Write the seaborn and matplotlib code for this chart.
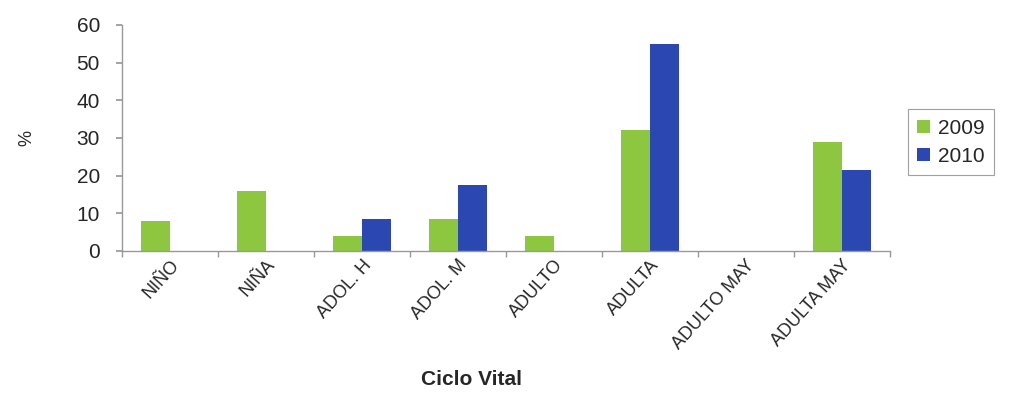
import matplotlib
matplotlib.use("Agg")
import matplotlib.pyplot as plt
import matplotlib.transforms as mtransforms
import numpy as np
import pandas as pd
import seaborn as sns

categories = ["NIÑO", "NIÑA", "ADOL. H", "ADOL. M", "ADULTO", "ADULTA",
              "ADULTO MAY", "ADULTA MAY"]
pct_2009 = [8, 16, 4, 8.5, 4, 32, 0, 29]
pct_2010 = [0, 0, 8.5, 17.5, 0, 55, 0, 21.5]
years = ["2009", "2010"]
y_ticks = [0, 10, 20, 30, 40, 50, 60]

df = pd.DataFrame({
    "Ciclo Vital": categories * 2,
    "pct": pct_2009 + pct_2010,
    "year": [years[0]] * len(categories) + [years[1]] * len(categories),
})

sns.set_theme(style="white")
plt.rcParams["font.family"] = ["Liberation Sans", "DejaVu Sans"]

fig = plt.figure(figsize=(10.1, 3.94), dpi=100)
ax = fig.add_axes([0.121, 0.363, 0.76, 0.574])

palette = {"2009": "#8dc63f", "2010": "#2b47b2"}
sns.barplot(data=df, x="Ciclo Vital", y="pct", hue="year",
            order=categories, hue_order=years, palette=palette,
            width=0.6, saturation=1, linewidth=0, ax=ax, legend=True)

ax.set_ylim(0, 60)
ax.set_xlim(-0.5, len(categories) - 0.5)
ax.set_yticks(y_ticks)
ax.set_yticklabels([str(t) for t in y_ticks], fontsize=15)
ax.set_xticks(range(len(categories)))
ax.set_xticklabels(categories, rotation=48, ha="right",
                   rotation_mode="anchor", fontsize=13)
shift = mtransforms.ScaledTranslation(-0.16, 0.0, fig.dpi_scale_trans)
for lbl in ax.get_xticklabels():
    lbl.set_transform(lbl.get_transform() + shift)
ax.set_xticks(np.arange(-0.5, len(categories), 1.0), minor=True)
ax.tick_params(axis="x", which="major", length=0, pad=4)
ax.tick_params(axis="x", which="minor", length=4, color="#999999",
               direction="out", bottom=True)
ax.tick_params(axis="y", length=4, color="#999999", direction="out",
               left=True, pad=12)

for side in ["top", "right"]:
    ax.spines[side].set_visible(False)
for side in ["left", "bottom"]:
    ax.spines[side].set_color("#999999")
    ax.spines[side].set_linewidth(1.0)

ax.set_ylabel("%", fontsize=13, labelpad=30)
ax.set_xlabel("Ciclo Vital", fontsize=15, fontweight="bold")
ax.xaxis.set_label_coords(0.455, -0.525)

leg = ax.legend(loc="center left", bbox_to_anchor=(1.01, 0.48),
                frameon=True, fontsize=15, handlelength=0.6,
                handleheight=0.6, handletextpad=0.4, borderpad=0.45,
                labelspacing=0.45, fancybox=False)
leg.get_frame().set_edgecolor("#888888")
leg.get_frame().set_linewidth(0.8)

fig.savefig("out.png", dpi=100, facecolor="white")
